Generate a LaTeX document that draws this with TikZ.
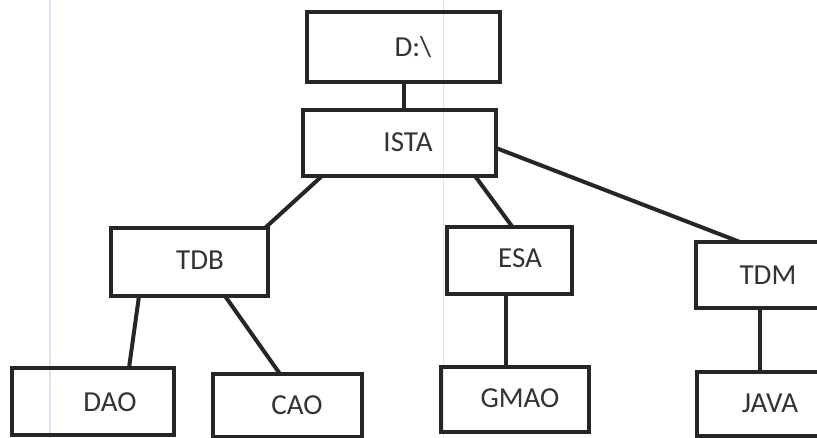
\documentclass[tikz,border=0pt]{standalone}
\usepackage{fontspec}
\setmainfont{Carlito}
\begin{document}
\begin{tikzpicture}[x=1pt,y=-1pt,
  folder/.style={draw=ink,line width=4pt,rectangle,inner sep=0pt,outer sep=0pt},
  lbl/.style={text=txt,font=\fontsize{29}{31}\selectfont,inner sep=0pt},
  link/.style={draw=ink,line width=4pt}]
\definecolor{ink}{HTML}{262626}
\definecolor{txt}{HTML}{333333}
\definecolor{scan}{HTML}{E2E2F2}
\useasboundingbox (0,0) rectangle (817,438);
\clip (0,0) rectangle (817,438);
\fill[white] (0,0) rectangle (817,438);
% faint ruling lines of the sheet
\draw[scan,line width=1.5pt] (50,0) -- (50,438);
\draw[scan,line width=1pt] (443,0) -- (443,438);

% folder boxes
\node[folder,minimum width=193pt,minimum height=70pt] (droot) at (403.5,47) {};
\node[folder,minimum width=193pt,minimum height=66pt] (ista) at (399.5,143) {};
\node[folder,minimum width=157pt,minimum height=68pt] (tdb) at (189.5,262) {};
\node[folder,minimum width=125pt,minimum height=67pt] (esa) at (509.5,260.5) {};
\node[folder,minimum width=154pt,minimum height=66pt] (tdm) at (773,275) {};
\node[folder,minimum width=162pt,minimum height=67pt] (dao) at (93,401.5) {};
\node[folder,minimum width=149pt,minimum height=63pt] (cao) at (287.5,405.5) {};
\node[folder,minimum width=148pt,minimum height=65pt] (gmao) at (515,399.5) {};
\node[folder,minimum width=153pt,minimum height=64pt] (java) at (773.5,404) {};

% folder names
\node[lbl] (tdroot) at (413,47) {D:\textbackslash};
\node[lbl] (tista) at (408,142) {ISTA};
\node[lbl] (ttdb) at (200,260) {TDB};
\node[lbl] (tesa) at (520,258) {ESA};
\node[lbl] (ttdm) at (768,275) {TDM};
\node[lbl] (tdao) at (110,402) {DAO};
\node[lbl] (tcao) at (297,405) {CAO};
\node[lbl] (tgmao) at (520,398) {GMAO};
\node[lbl] (tjava) at (770,403) {JAVA};

% tree links
\draw[link] (droot.south) -- (droot.south |- ista.north);
\draw[link] ([xshift=19pt]ista.south west) -- ([xshift=-3pt]tdb.north east);
\draw[link] ([xshift=-21pt]ista.south east) -- ([xshift=3pt]esa.north);
\draw[link] ([yshift=-5pt]ista.east) -- ([xshift=44pt]tdm.north west);
\draw[link] ([xshift=28pt]tdb.south west) -- ([xshift=117pt]dao.north west);
\draw[link] ([xshift=114pt]tdb.south west) -- ([xshift=67pt]cao.north west);
\draw[link] ([xshift=-3.5pt]esa.south) -- ([xshift=-3.5pt]esa.south |- gmao.north);
\draw[link] ([xshift=64pt]tdm.south west) -- ([xshift=64pt]tdm.south west |- java.north);
\end{tikzpicture}
\end{document}
